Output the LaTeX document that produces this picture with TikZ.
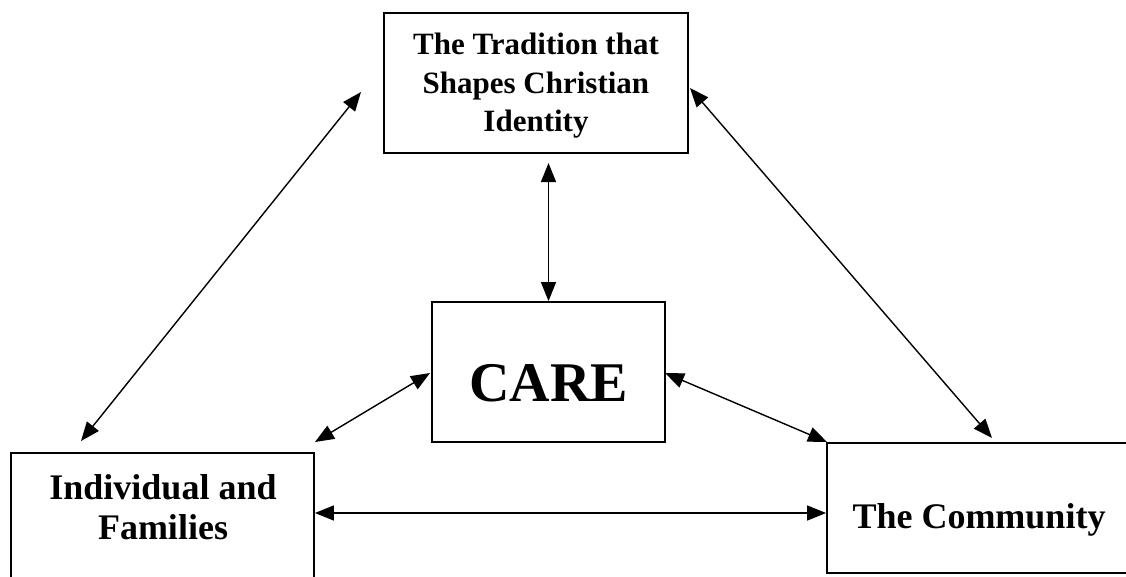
\documentclass[tikz,border=0pt]{standalone}
\usepackage{fontspec}
\setmainfont{Liberation Serif}
\usetikzlibrary{arrows.meta}
\begin{document}
\begin{tikzpicture}[x=1pt,y=-1pt,
  box/.style={draw,line width=1.8pt,rectangle,inner sep=0pt},
  lbl/.style={font=\bfseries,align=center,inner sep=0pt},
  arr/.style={line width=1.4pt,{Triangle[length=19pt,width=15pt]}-{Triangle[length=19pt,width=15pt]}}]
\useasboundingbox (0,0) rectangle (1126,576);
\clip (0,0) rectangle (1126,576);
% boxes
\node[box,minimum width=304pt,minimum height=140pt] (top) at (536,83) {};
\node[box,minimum width=233pt,minimum height=140pt] (care) at (548.5,372) {};
\node[box,minimum width=303pt,minimum height=147pt] (left) at (162.5,526.5) {};
\node[box,minimum width=313pt,minimum height=130pt] (right) at (983.5,508) {};
% texts
\node[lbl,font=\fontsize{31}{38.5}\selectfont\bfseries] (ttop) at (536,86) {The Tradition that\\Shapes Christian\\Identity};
\node[lbl,font=\fontsize{56}{60}\selectfont\bfseries] (tcare) at (548.5,383) {CARE};
\node[lbl,font=\fontsize{36}{40}\selectfont\bfseries] (tleft) at (163,507) {Individual and\\Families};
\node[lbl,font=\fontsize{36}{40}\selectfont\bfseries] (tright) at (979,520) {The Community};
% free ends of connectors
\coordinate (d1a) at (361,92);
\coordinate (d1b) at (81,441);
\coordinate (d2a) at (690,88);
\coordinate (d2b) at (992,438);
\coordinate (cl) at (430,373);
\coordinate (lc) at (315,442);
\coordinate (cr) at (665,373);
\coordinate (rc) at (827,442);
\coordinate (vt) at (548.5,163);
% connectors
\draw[arr] (vt) -- (care.north);
\draw[arr] (d1a) -- (d1b);
\draw[arr] (d2a) -- (d2b);
\draw[arr] (cl) -- (lc);
\draw[arr] (cr) -- (rc);
\draw[arr] (left.east |- 0,513) -- (right.west |- 0,513);
\end{tikzpicture}
\end{document}
